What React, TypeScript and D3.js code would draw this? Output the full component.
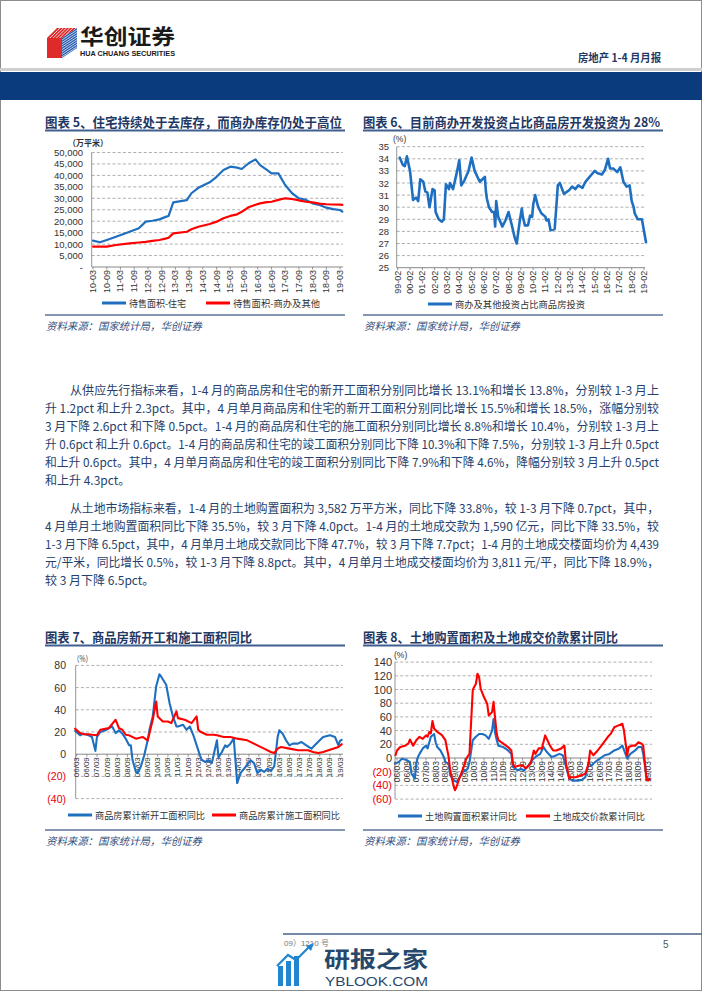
import React from "react";
import * as d3 from "d3";

// ---------------- DATA ----------------
// Chart 5: inventory (10k sqm)
const c5Months = ["2010-03","2010-06","2010-09","2011-01","2011-07","2011-11","2012-02","2012-05","2012-08","2012-11","2012-12","2013-02","2013-08","2013-10","2014-01","2014-06","2014-09","2014-12","2015-03","2015-06","2015-08","2015-11","2016-02","2016-04","2016-07","2016-09","2016-12","2017-03","2017-06","2017-09","2017-12","2018-03","2018-06","2018-09","2018-12","2019-03","2019-04"];
const c5Residential = [11500,10800,11800,13200,15400,16900,19800,20200,20800,22000,22300,28200,29200,32200,34600,37000,39400,42400,43800,43400,42800,45300,47000,44500,42400,40900,40900,35800,32200,30000,29300,27800,27100,25900,25300,24900,24200];
const c5Commercial = [8900,8900,8900,9600,10300,10700,11000,11400,11800,12500,12800,14700,15400,16500,17600,18800,19800,21300,22300,23000,24100,26100,27200,27800,28300,28500,29300,30000,29700,29100,28500,28200,27700,27400,27300,27200,27100];
const c5YTicks = [0,5000,10000,15000,20000,25000,30000,35000,40000,45000,50000];
const c5XLabels = ["10-03","10-09","11-03","11-09","12-03","12-09","13-03","13-09","14-03","14-09","15-03","15-09","16-03","16-09","17-03","17-09","18-03","18-09","19-03"];
const c5Legend = ["待售面积-住宅","待售面积-商办及其他"];

// Chart 6: share of commercial investment (%)
const c6Months = ["1999-04","1999-07","1999-09","1999-11","2000-02","2000-05","2000-08","2000-10","2000-12","2001-03","2001-05","2001-07","2001-09","2001-12","2002-02","2002-03","2002-06","2002-09","2002-11","2003-01","2003-04","2003-05","2003-08","2003-12","2004-02","2004-04","2004-07","2004-11","2005-02","2005-05","2005-10","2006-03","2006-04","2006-05","2006-07","2006-10","2006-12","2007-01","2007-02","2007-04","2007-08","2007-11","2008-02","2008-05","2008-08","2008-10","2009-01","2009-03","2009-04","2009-06","2009-09","2009-11","2010-01","2010-02","2010-04","2010-07","2010-10","2011-02","2011-03","2011-05","2011-07","2011-11","2012-01","2012-02","2012-04","2012-08","2013-01","2013-04","2013-07","2013-10","2014-02","2014-05","2014-08","2014-11","2015-02","2015-05","2015-09","2015-12","2016-03","2016-05","2016-08","2016-12","2017-03","2017-06","2017-09","2017-12","2018-02","2018-04","2018-05","2018-08","2018-12","2019-04"];
const c6Share = [34.1,33.5,33.4,34.2,33.0,30.6,30.8,30.5,32.3,32.1,31.3,31.2,30.0,31.5,31.4,29.6,29.0,28.8,29.0,31.9,31.5,32.0,31.5,33.0,33.9,31.8,32.2,33.0,34.1,33.0,32.1,32.5,31.3,30.7,30.0,29.6,29.6,28.4,30.5,29.2,28.4,28.9,29.6,28.6,27.5,27.0,28.9,29.9,29.2,28.5,28.5,29.3,29.2,30.2,31.0,30.0,29.5,29.2,28.9,29.0,28.1,28.2,30.5,31.8,32.0,31.1,31.4,31.7,31.5,31.8,31.6,32.1,32.4,32.7,33.0,32.8,32.7,33.1,34.0,33.2,33.2,32.9,33.3,32.1,31.7,31.8,30.5,30.0,29.5,29.0,29.0,27.1];
const c6YTicks = [25,26,27,28,29,30,31,32,33,34,35];
const c6XLabels = ["99-02","00-02","01-02","02-02","03-02","04-02","05-02","06-02","07-02","08-02","09-02","10-02","11-02","12-02","13-02","14-02","15-02","16-02","17-02","18-02","19-02"];
const c6Legend = ["商办及其他投资占比商品房投资"];

// Chart 7: new starts / under construction YoY (%)
const c7StartMonths = ["2006-02","2006-05","2006-07","2006-10","2006-12","2007-02","2007-03","2007-05","2007-08","2007-12","2008-02","2008-04","2008-06","2008-08","2008-10","2008-11","2008-12","2009-02","2009-03","2009-05","2009-07","2009-09","2009-10","2009-12","2010-02","2010-04","2010-05","2010-07","2010-08","2010-10","2010-12","2011-02","2011-03","2011-06","2011-08","2011-10","2011-12","2012-02","2012-04","2012-05","2012-07","2012-09","2012-11","2013-02","2013-03","2013-05","2013-07","2013-08","2013-10","2013-12","2014-02","2014-04","2014-07","2014-10","2014-12","2015-02","2015-04","2015-06","2015-08","2015-10","2015-12","2016-02","2016-03","2016-05","2016-07","2016-09","2016-11","2017-02","2017-04","2017-07","2017-10","2017-12","2018-03","2018-05","2018-09","2018-12","2019-02","2019-03","2019-04"];
const c7Start = [21,17,18.5,17,15.5,3,15.5,20,21.5,25,19,21.5,18.5,14,8,8,-5,-16,-17,-11,-1,12.5,21.5,34,61,72,70,65,62.6,46,34,25,25,26.5,22,25,17.5,8,-1,-5,-7,-5.5,-8,12.5,-3,2,8,6.5,9.5,14,-26,-17,-11.5,-5.5,-8,-17,-14,-16,-13,-15,-11,15.5,21.5,18.5,12.5,8,9.5,9.5,11,8,5,8,12.5,15.5,17,15.5,8,12,13];
const c7BuildMonths = ["2006-02","2006-05","2006-07","2006-10","2006-12","2007-03","2007-05","2007-10","2008-02","2008-04","2008-06","2008-08","2008-10","2009-02","2009-06","2009-09","2009-10","2009-12","2010-02","2010-03","2010-06","2010-09","2010-11","2011-02","2011-03","2011-07","2011-11","2012-02","2012-03","2012-04","2012-08","2012-12","2013-02","2013-06","2013-10","2014-02","2014-08","2015-02","2015-06","2015-10","2015-12","2016-02","2016-04","2016-09","2017-02","2017-08","2017-11","2018-02","2018-05","2018-09","2019-02","2019-04"];
const c7Build = [23,19,18,18,17.5,17,22,23.5,31,23.5,22,17.5,17,14,15.5,12.5,18.5,31,47.5,34,29.5,29.5,28,38.5,32.5,31,28,34,22,20.5,17.5,17.5,17,15.5,15.5,14,12.5,8,5,2,1,5,6.5,5,3.5,3.5,2,1,2,4,6.5,9];
const c7YTicks = [-40,-20,0,20,40,60,80];
const c7XLabels = ["06/03","06/09","07/03","07/09","08/03","08/09","09/03","09/09","10/03","10/09","11/03","11/09","12/03","12/09","13/03","13/09","14/03","14/09","15/03","15/09","16/03","16/09","17/03","17/09","18/03","18/09","19/03"];
const c7Legend = ["商品房累计新开工面积同比","商品房累计施工面积同比"];

// Chart 8: land purchase area / land transaction value YoY (%)
const c8AreaMonths = ["2006-02","2006-04","2006-06","2006-09","2006-11","2006-12","2007-02","2007-03","2007-04","2007-05","2007-07","2007-09","2007-10","2007-12","2008-02","2008-03","2008-04","2008-06","2008-08","2008-09","2008-11","2008-12","2009-02","2009-04","2009-06","2009-08","2009-10","2009-11","2009-12","2010-02","2010-04","2010-06","2010-08","2010-10","2010-12","2011-02","2011-03","2011-04","2011-05","2011-06","2011-09","2011-12","2012-02","2012-03","2012-06","2012-08","2012-10","2012-12","2013-03","2013-05","2013-08","2013-10","2013-12","2014-03","2014-05","2014-08","2014-10","2015-02","2015-04","2015-07","2015-10","2015-12","2016-02","2016-04","2016-06","2016-09","2016-12","2017-03","2017-06","2017-09","2017-11","2018-02","2018-04","2018-07","2018-09","2018-11","2018-12","2019-02","2019-04"];
const c8Area = [-8,-6,-1,-3,-6,-23,-30,-8,1.5,6,14,18,14,31,35,23,16,11,1.5,-6,-8,-25,-32,-35,-28,-20,-18,-15,-6,26,31,35,35,33,28,40,57,36,26,18,16,11,6,-13,-18,-16,-18,-13,-3,1.5,6,16,9,1.5,3,6,4,-30,-33,-33,-32,-28,-8,-11,-6,-1,4,6,11,14,18,-1,6,11,16,16,6,-28,-32];
const c8ValueMonths = ["2006-02","2006-03","2006-05","2006-08","2006-10","2006-11","2007-01","2007-03","2007-05","2007-07","2007-09","2007-10","2007-11","2007-12","2008-01","2008-02","2008-04","2008-06","2008-07","2008-09","2008-10","2008-11","2008-12","2009-02","2009-03","2009-04","2009-06","2009-08","2009-10","2009-12","2010-02","2010-03","2010-04","2010-05","2010-06","2010-07","2010-09","2010-11","2010-12","2011-02","2011-03","2011-04","2011-05","2011-06","2011-09","2011-12","2012-02","2012-03","2012-04","2012-07","2012-09","2012-11","2013-02","2013-04","2013-05","2013-07","2013-09","2013-11","2014-02","2014-04","2014-06","2014-09","2014-11","2014-12","2015-02","2015-03","2015-06","2015-10","2015-12","2016-02","2016-03","2016-05","2016-07","2016-10","2017-02","2017-04","2017-06","2017-09","2017-11","2017-12","2018-02","2018-03","2018-05","2018-07","2018-09","2018-11","2018-12","2019-02","2019-03","2019-04"];
const c8Value = [4,11,16,18,21,27,18,26,31,28,33,31,38,36,54,43,38,35,33,26,14,2,-18,-40,-47,-42,-28,-16,-1,6,99,104,108,123,118,101,89,79,62,67,82,57,35,26,21,16,11,-8,-13,-11,-11,-15,-8,11,6,14,14,33,18,11,11,14,18,-8,-30,-28,-28,-25,-23,-8,11,4,9,18,31,36,45,48,50,40,4,16,18,18,23,21,18,-32,-33,-30];
const c8YTicks = [-60,-40,-20,0,20,40,60,80,100,120,140];
const c8XLabels = c7XLabels;
const c8Legend = ["土地购置面积累计同比","土地成交价款累计同比"];

// ---------------- STYLE ----------------
const CJK = "'Noto Sans CJK SC', 'Noto Sans', sans-serif";
const SANS = "'Liberation Sans', Arial, 'Noto Sans CJK SC', sans-serif";
const NAVY = "#1f3864";
const BLUE = "#1f6fc1";
const RED = "#ff0000";
const GRID = "#9a9a9a";
const SRC = "资料来源：国家统计局，华创证券";

const pM = d3.timeParse("%Y-%m");

type Series = { months: string[]; values: number[]; color: string; width: number };
type ChartProps = {
  xDomain: [string, string]; xRange: [number, number];
  yDomain: [number, number]; yRange: [number, number];
  yTicks: number[]; baseValue: number;
  axisX: number; gridRight: number;
  yLabelX: number; yFont: number; yFmt: (v: number) => string; negRed?: boolean;
  xLabels: string[]; xLabelFmt: string; xFont: number; xLabelGap: number;
  series: Series[];
};

function Chart(p: ChartProps) {
  const x = d3.scaleTime().domain([pM(p.xDomain[0])!, pM(p.xDomain[1])!]).range(p.xRange);
  const y = d3.scaleLinear().domain(p.yDomain).range(p.yRange);
  const pl = d3.timeParse(p.xLabelFmt);
  const yTop = y(p.yDomain[1]);
  const yBot = y(p.yDomain[0]);
  const yBase = y(p.baseValue);
  return (
    <g>
      {p.yTicks.filter((v) => v !== p.baseValue).map((v) => (
        <line key={"g" + v} x1={p.axisX} x2={p.gridRight} y1={y(v)} y2={y(v)} stroke={GRID} strokeWidth={0.8} strokeDasharray="3 2.2" />
      ))}
      <line x1={p.axisX} x2={p.axisX} y1={yTop} y2={yBot} stroke="#8a8a8a" strokeWidth={0.9} />
      <line x1={p.axisX} x2={p.gridRight} y1={yBase} y2={yBase} stroke="#7a7a7a" strokeWidth={0.9} />
      {p.yTicks.map((v) => (
        <text key={"y" + v} x={p.yLabelX} y={y(v)} textAnchor="end" dominantBaseline="central" fontFamily={SANS} fontSize={p.yFont}
          fill={p.negRed && v < 0 ? "#e8000b" : "#333"}>{p.yFmt(v)}</text>
      ))}
      {p.xLabels.map((l) => {
        const px = x(pl(l)!);
        return (
          <g key={"x" + l}>
            <line x1={px} x2={px} y1={yBase} y2={yBase + 2.5} stroke="#7a7a7a" strokeWidth={0.8} />
            <text transform={`translate(${px},${yBase + p.xLabelGap}) rotate(-90)`} textAnchor="end" dominantBaseline="central"
              fontFamily={SANS} fontSize={p.xFont} fill="#333">{l}</text>
          </g>
        );
      })}
      {p.series.map((s, i) => {
        const pts = s.months.map((m, j) => [x(pM(m)!), y(s.values[j])] as [number, number]);
        const line = d3.line().curve(d3.curveLinear);
        return <path key={"s" + i} d={line(pts) || ""} fill="none" stroke={s.color} strokeWidth={s.width} strokeLinejoin="round" strokeLinecap="round" />;
      })}
    </g>
  );
}

function Legend({ items }: { items: { x: number; y: number; color: string; label: string; len: number }[] }) {
  return (
    <g>
      {items.map((it, i) => (
        <g key={i}>
          <line x1={it.x} x2={it.x + 24} y1={it.y} y2={it.y} stroke={it.color} strokeWidth={3} />
          <text x={it.x + 27} y={it.y} dominantBaseline="central" fontFamily={CJK} fontSize={9.5} fill="#333"
            textLength={it.len} lengthAdjust="spacingAndGlyphs">{it.label}</text>
        </g>
      ))}
    </g>
  );
}

function Title({ x, y, text, len }: { x: number; y: number; text: string; len: number }) {
  return (
    <g>
      <text x={x} y={y} dominantBaseline="central" fontFamily={CJK} fontWeight="bold" fontSize={13} fill={NAVY}
        textLength={len} lengthAdjust="spacingAndGlyphs">{text}</text>
      <line x1={x} x2={x + 300} y1={y + 9.5} y2={y + 9.5} stroke="#3f5f8f" strokeWidth={2} />
    </g>
  );
}

function Source({ x, y }: { x: number; y: number }) {
  return (
    <g>
      <line x1={x} x2={x + 300} y1={y} y2={y} stroke="#5b7399" strokeWidth={1.5} />
      <text x={x + 1} y={y + 10.5} dominantBaseline="central" fontFamily={CJK} fontStyle="italic" fontSize={10.5} fill="#2f4f80"
        textLength={156} lengthAdjust="spacingAndGlyphs">{SRC}</text>
    </g>
  );
}

const para1 = [
  "从供应先行指标来看，1-4 月的商品房和住宅的新开工面积分别同比增长 13.1%和增长 13.8%，分别较 1-3 月上",
  "升 1.2pct 和上升 2.3pct。其中，4 月单月商品房和住宅的新开工面积分别同比增长 15.5%和增长 18.5%，涨幅分别较",
  "3 月下降 2.6pct 和下降 0.5pct。1-4 月的商品房和住宅的施工面积分别同比增长 8.8%和增长 10.4%，分别较 1-3 月上",
  "升 0.6pct 和上升 0.6pct。1-4 月的商品房和住宅的竣工面积分别同比下降 10.3%和下降 7.5%，分别较 1-3 月上升 0.5pct",
  "和上升 0.6pct。其中，4 月单月商品房和住宅的竣工面积分别同比下降 7.9%和下降 4.6%，降幅分别较 3 月上升 0.5pct",
  "和上升 4.3pct。",
];
const para2 = [
  "从土地市场指标来看，1-4 月的土地购置面积为 3,582 万平方米，同比下降 33.8%，较 1-3 月下降 0.7pct，其中，",
  "4 月单月土地购置面积同比下降 35.5%，较 3 月下降 4.0pct。1-4 月的土地成交款为 1,590 亿元，同比下降 33.5%，较",
  "1-3 月下降 6.5pct，其中，4 月单月土地成交款同比下降 47.7%，较 3 月下降 7.7pct；1-4 月的土地成交楼面均价为 4,439",
  "元/平米，同比增长 0.5%，较 1-3 月下降 8.8pct。其中，4 月单月土地成交楼面均价为 3,811 元/平，同比下降 18.9%，",
  "较 3 月下降 6.5pct。",
];

function Paragraph({ lines, y0 }: { lines: string[]; y0: number }) {
  return (
    <g>
      {lines.map((l, i) => {
        const last = i === lines.length - 1;
        const xs = i === 0 ? 70 : 45;
        return (
          <text key={i} x={xs} y={y0 + i * 18} dominantBaseline="central" fontFamily={CJK} fontSize={12} fill="#263f6d"
            {...(last ? {} : { textLength: 659 - xs, lengthAdjust: "spacingAndGlyphs" })}>{l}</text>
        );
      })}
    </g>
  );
}

const fmtThousands = (v: number) => (v === 0 ? "-" : d3.format(",")(v));
const fmtParen = (v: number) => (v < 0 ? `(${-v})` : `${v}`);

export default function App() {
  const hStripes = d3.range(0, 8);
  return (
    <svg width={702} height={991} viewBox="0 0 702 991" style={{ position: "absolute", left: 0, top: 0, background: "#fff" }}>
      <rect x={0} y={0} width={702} height={991} fill="#fff" />
      <rect x={0.5} y={0.5} width={701} height={990} fill="none" stroke="#8c8c8c" strokeWidth={1} />

      {/* Header logo */}
      <g>
        <polygon points="47,38 57,28 77,28 62,38" fill="#e02a2a" />
        {hStripes.map((i) => (
          <line key={"d" + i} x1={50 + i * 3.2} y1={38} x2={60 + i * 3.2} y2={28} stroke="#fff" strokeWidth={0.8} />
        ))}
        <rect x={47} y={38} width={15} height={20} fill="#e02a2a" />
        <polygon points="62,38 77,28 77,48 62,58" fill="#2a5db0" />
        {hStripes.map((i) => (
          <line key={"h" + i} x1={62} y1={40 + i * 2.4} x2={77} y2={30 + i * 2.4} stroke="#fff" strokeWidth={0.7} />
        ))}
        <text x={80} y={44} fontFamily={CJK} fontWeight="bold" fontSize={21} fill="#1a1a1a" textLength={95} lengthAdjust="spacingAndGlyphs">华创证券</text>
        <text x={80} y={55.5} fontFamily={SANS} fontWeight="bold" fontSize={6.5} fill="#1a1a1a" textLength={95} lengthAdjust="spacingAndGlyphs">HUA CHUANG SECURITIES</text>
      </g>
      <text x={578} y={57} dominantBaseline="central" fontFamily={CJK} fontWeight="bold" fontSize={11} fill={NAVY} textLength={83} lengthAdjust="spacingAndGlyphs">房地产 1-4 月月报</text>
      <rect x={0} y={68} width={702} height={3} fill="#cfcfcf" />
      <rect x={0} y={72} width={702} height={28} fill="#0a3c7d" />

      {/* Chart 5 */}
      <Title x={45} y={121} text="图表 5、住宅持续处于去库存，而商办库存仍处于高位" len={297} />
      <text x={68} y={141.5} dominantBaseline="central" fontFamily={CJK} fontWeight="bold" fontSize={8.5} fill="#333" textLength={40} lengthAdjust="spacingAndGlyphs">（万平米）</text>
      <Chart xDomain={["2010-03", "2019-03"]} xRange={[93, 340]} yDomain={[0, 50000]} yRange={[267, 152.5]} yTicks={c5YTicks} baseValue={0}
        axisX={91.7} gridRight={343} yLabelX={83} yFont={9.5} yFmt={fmtThousands}
        xLabels={c5XLabels} xLabelFmt="%y-%m" xFont={9} xLabelGap={3}
        series={[{ months: c5Months, values: c5Residential, color: BLUE, width: 2.2 }, { months: c5Months, values: c5Commercial, color: RED, width: 2.2 }]} />
      <Legend items={[{ x: 102, y: 303, color: BLUE, label: c5Legend[0], len: 57 }, { x: 206, y: 303, color: RED, label: c5Legend[1], len: 87 }]} />
      <Source x={45} y={315} />

      {/* Chart 6 */}
      <Title x={363} y={121} text="图表 6、目前商办开发投资占比商品房开发投资为 28%" len={297} />
      <text x={393} y={139} dominantBaseline="central" fontFamily={SANS} fontSize={8.5} fill="#333">(%)</text>
      <Chart xDomain={["1999-02", "2019-02"]} xRange={[397.7, 644]} yDomain={[25, 35]} yRange={[267.7, 146.7]} yTicks={c6YTicks} baseValue={25}
        axisX={396.7} gridRight={645} yLabelX={389} yFont={9.5} yFmt={(v) => `${v}`}
        xLabels={c6XLabels} xLabelFmt="%y-%m" xFont={9} xLabelGap={3}
        series={[{ months: c6Months, values: c6Share, color: BLUE, width: 2.6 }]} />
      <Legend items={[{ x: 428, y: 304, color: BLUE, label: c6Legend[0], len: 130 }]} />
      <Source x={363} y={315} />

      {/* Text */}
      <Paragraph lines={para1} y0={389} />
      <Paragraph lines={para2} y0={507} />

      {/* Chart 7 */}
      <Title x={45} y={636} text="图表 7、商品房新开工和施工面积同比" len={207} />
      <text x={73} y={658} dominantBaseline="central" fontFamily={CJK} fontSize={8.5} fill="#333" textLength={19} lengthAdjust="spacingAndGlyphs">（%）</text>
      <Chart xDomain={["2006-03", "2019-03"]} xRange={[76.7, 340]} yDomain={[-40, 80]} yRange={[798.6, 665.4]} yTicks={c7YTicks} baseValue={0}
        axisX={75.7} gridRight={343} yLabelX={66} yFont={10.5} yFmt={fmtParen} negRed
        xLabels={c7XLabels} xLabelFmt="%y/%m" xFont={8} xLabelGap={3}
        series={[{ months: c7StartMonths, values: c7Start, color: BLUE, width: 2.1 }, { months: c7BuildMonths, values: c7Build, color: RED, width: 2.1 }]} />
      <Legend items={[{ x: 68, y: 815, color: BLUE, label: c7Legend[0], len: 110 }, { x: 212, y: 815, color: RED, label: c7Legend[1], len: 101 }]} />
      <Source x={45} y={830} />

      {/* Chart 8 */}
      <Title x={363} y={636} text="图表 8、土地购置面积及土地成交价款累计同比" len={255} />
      <text x={394} y={655} dominantBaseline="central" fontFamily={SANS} fontSize={8.5} fill="#333">(%)</text>
      <Chart xDomain={["2006-03", "2019-03"]} xRange={[397, 648]} yDomain={[-60, 140]} yRange={[799.1, 662.1]} yTicks={c8YTicks} baseValue={0}
        axisX={395} gridRight={652} yLabelX={392} yFont={11} yFmt={fmtParen} negRed
        xLabels={c8XLabels} xLabelFmt="%y/%m" xFont={8.5} xLabelGap={3}
        series={[{ months: c8AreaMonths, values: c8Area, color: BLUE, width: 2.1 }, { months: c8ValueMonths, values: c8Value, color: RED, width: 2.1 }]} />
      <Legend items={[{ x: 398, y: 816, color: BLUE, label: c8Legend[0], len: 92 }, { x: 526, y: 816, color: RED, label: c8Legend[1], len: 92 }]} />
      <Source x={363} y={830} />

      {/* Footer */}
      <line x1={283} x2={702} y1={934} y2={934} stroke="#4a6387" strokeWidth={1.5} />
      <text x={284} y={943} dominantBaseline="central" fontFamily={SANS} fontSize={8} fill="#777">09）1210 号</text>
      <text x={663} y={944} dominantBaseline="central" fontFamily={SANS} fontSize={10} fill="#555">5</text>
      <g>
        <rect x={278} y={966} width={5} height={20} fill="#2186cf" />
        <rect x={286} y={961} width={5} height={25} fill="#2186cf" />
        <rect x={294} y={956} width={5} height={30} fill="#2186cf" />
        <polyline points="277,966 288,955 296,960 310,946" fill="none" stroke="#2186cf" strokeWidth={2.2} />
        <polygon points="314,943 306,946 311,951" fill="#2186cf" />
        <text x={324} y={957} dominantBaseline="central" fontFamily={CJK} fontWeight="bold" fontSize={22} fill="#27476b" textLength={104} lengthAdjust="spacingAndGlyphs">研报之家</text>
        <text x={325} y={982} dominantBaseline="central" fontFamily={SANS} fontSize={12} fill="#27476b" textLength={103} lengthAdjust="spacingAndGlyphs">YBLOOK.COM</text>
      </g>
    </svg>
  );
}
